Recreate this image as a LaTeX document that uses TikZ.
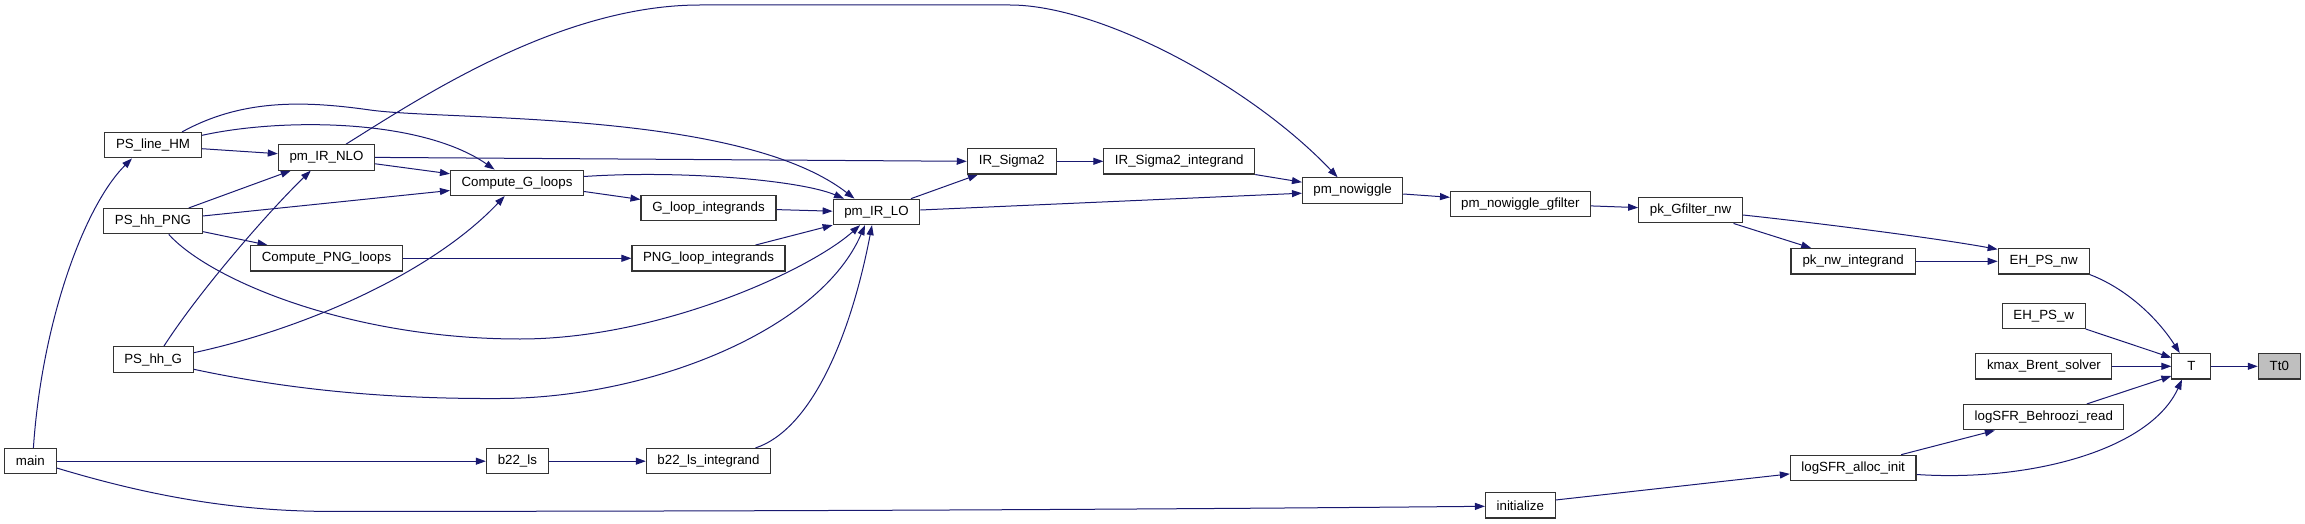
\documentclass[tikz,border=0pt]{standalone}
\usepackage{fontspec}
\setmainfont{Liberation Sans}
\usetikzlibrary{arrows.meta,calc}
\definecolor{edgeblue}{HTML}{191970}
\definecolor{nodeborder}{HTML}{333333}
\definecolor{hilite}{HTML}{BFBFBF}
\pgfdeclarelayer{edgelayer}
\pgfsetlayers{edgelayer,main}
\tikzset{
  fbox/.style={draw=nodeborder, line width=1.1pt, fill=white, rectangle, inner sep=0pt,
    minimum height=25.4pt, font=\fontsize{13.3}{16}\selectfont, text=black},
  callee/.style={fbox, fill=hilite},
  edge/.style={draw=edgeblue, line width=1pt, -{Triangle[length=10pt,width=7pt]}}
}
\begin{document}
\begin{tikzpicture}[x=1pt,y=-1pt]
\useasboundingbox (0,0) rectangle (2305,524);
% nodes
\node[callee, minimum width=42] (Tt0) at (2279.3,366.3) {Tt0};
\node[fbox, minimum width=39] (T) at (2191.4,366.3) {T};
\node[fbox, minimum width=91] (EHnw) at (2043.7,261.3) {EH\_PS\_nw};
\node[fbox, minimum width=83] (EHw) at (2043.7,315.8) {EH\_PS\_w};
\node[fbox, minimum width=136] (kmax) at (2043.9,366.3) {kmax\_Brent\_solver};
\node[fbox, minimum width=160] (behr) at (2043.8,417.2) {logSFR\_Behroozi\_read};
\node[fbox, minimum width=124.4] (pknw) at (1853.2,261.3) {pk\_nw\_integrand};
\node[fbox, minimum width=125.6] (alloc) at (1853.2,467.9) {logSFR\_alloc\_init};
\node[fbox, minimum width=103.7] (pkG) at (1690.5,210.2) {pk\_Gfilter\_nw};
\node[fbox, minimum width=139.6] (gfil) at (1520.3,203.9) {pm\_nowiggle\_gfilter};
\node[fbox, minimum width=69.6] (init) at (1520.3,505.3) {initialize};
\node[fbox, minimum width=100.2] (nowig) at (1352.6,190.5) {pm\_nowiggle};
\node[fbox, minimum width=150.8] (irsi) at (1179.3,161.3) {IR\_Sigma2\_integrand};
\node[fbox, minimum width=88.8] (irs) at (1011.7,161.3) {IR\_Sigma2};
\node[fbox, minimum width=86.6] (lo) at (876.5,211.9) {pm\_IR\_LO};
\node[fbox, minimum width=135] (gli) at (708.5,207.9) {G\_loop\_integrands};
\node[fbox, minimum width=153] (pngli) at (708.5,258.3) {PNG\_loop\_integrands};
\node[fbox, minimum width=124.3] (b22i) at (708.5,461.2) {b22\_ls\_integrand};
\node[fbox, minimum width=133] (cg) at (517,182.8) {Compute\_G\_loops};
\node[fbox, minimum width=62] (b22) at (517.4,461.2) {b22\_ls};
\node[fbox, minimum width=96.3] (nlo) at (326.5,157.4) {pm\_IR\_NLO};
\node[fbox, minimum width=152.4] (cpng) at (326.5,258.3) {Compute\_PNG\_loops};
\node[fbox, minimum width=96.3] (hm) at (153,145.2) {PS\_line\_HM};
\node[fbox, minimum width=98.3] (hpng) at (153,221.2) {PS\_hh\_PNG};
\node[fbox, minimum width=80.2] (hg) at (153.2,359.6) {PS\_hh\_G};
\node[fbox, minimum width=51.5] (main) at (30.4,461.2) {main};
% edges
\begin{pgfonlayer}{edgelayer}
\draw[edge] (T.east) -- (Tt0.west);
\draw[edge] (EHnw.south east) .. controls (2130,290) and (2160,322) .. ($(T.north west)+(8.4,0)$);
\draw[edge] (EHw.south east) -- ($(T.west)+(0,-8.6)$);
\draw[edge] (kmax.east) -- (T.west);
\draw[edge] ($(behr.north)+(43,0)$) -- ($(T.west)+(0,9.7)$);
\draw[edge] ($(alloc.east)+(0,6.6)$) .. controls (2030,482) and (2150,450) .. ($(T.south)+(-9.4,0)$);
\draw[edge] ($(alloc.north)+(48,0)$) -- ($(behr.south)+(-49,0)$);
\draw[edge] ($(init.east)+(0,-5.3)$) -- ($(alloc.west)+(0,6)$);
\draw[edge] ($(main.east)+(0,6.8)$) .. controls (130,490) and (220,511.4) .. (330,511.4)
  .. controls (800,511.4) and (1200,509) .. ($(init.west)+(0,1)$);
\draw[edge] ($(pkG.east)+(0,4.8)$) .. controls (1800,221) and (1930,237) .. ($(EHnw.north west)+(0,1.3)$);
\draw[edge] ($(pkG.south)+(43,0)$) -- ($(pknw.north)+(-42,0)$);
\draw[edge] (pknw.east) -- (EHnw.west);
\draw[edge] ($(gfil.east)+(0,2)$) -- ($(pkG.west)+(0,-2.6)$);
\draw[edge] ($(nowig.east)+(0,3.5)$) -- ($(gfil.west)+(0,-6.6)$);
\draw[edge] (irsi.south east) -- ($(nowig.west)+(0,-8.3)$);
\draw[edge] ($(lo.east)+(0,-1.9)$) -- ($(nowig.west)+(0,2.7)$);
\draw[edge] ($(nlo.north)+(19.5,0)$) .. controls (420,98) and (560,5) .. (700,5) -- (1010,5)
  .. controls (1100,5) and (1250,85) .. ($(nowig.north)+(-15,0)$);
\draw[edge] (irs.east) -- (irsi.west);
\draw[edge] ($(lo.north)+(34.5,0)$) -- ($(irs.south)+(-33.7,0)$);
\draw[edge] (nlo.east) -- (irs.west);
\draw[edge] ($(gli.east)+(0,1.7)$) -- ($(lo.west)+(0,-0.7)$);
\draw[edge] ($(pngli.north)+(47,0)$) -- (lo.south west);
\draw[edge] ($(cg.east)+(0,-6.3)$) .. controls (680,170) and (800,180) .. ($(lo.north)+(-32.5,0)$);
\draw[edge] ($(hm.north)+(29,0)$) .. controls (240,100) and (300,100) .. (370,110)
  .. controls (450,121) and (740,110) .. ($(lo.north)+(-22,0)$);
\draw[edge] ($(hpng.south)+(15.8,0)$) .. controls (210,280) and (350,339) .. (520,339)
  .. controls (660,339) and (810,270) .. ($(lo.south)+(-16.5,0)$);
\draw[edge] ($(hg.east)+(0,9.7)$) .. controls (300,392) and (400,399) .. (500,398.5)
  .. controls (650,398) and (820,330) .. ($(lo.south)+(-11.5,0)$);
\draw[edge] ($(b22i.north)+(47,0)$) .. controls (810,430) and (850,340) .. ($(lo.south)+(-4.5,0)$);
\draw[edge] ($(cg.east)+(0,8.7)$) -- ($(gli.west)+(0,-8.4)$);
\draw[edge] (cpng.east) -- (pngli.west);
\draw[edge] ($(nlo.east)+(0,6.4)$) -- ($(cg.west)+(0,-9)$);
\draw[edge] ($(hm.east)+(0,-9.8)$) .. controls (280,118) and (420,118) .. ($(cg.north)+(-22.4,0)$);
\draw[edge] ($(hpng.east)+(0,-5.2)$) -- ($(cg.west)+(0,7.7)$);
\draw[edge] ($(hg.east)+(0,-6.9)$) .. controls (300,330) and (430,275) .. ($(cg.south)+(-12.3,0)$);
\draw[edge] ($(hm.east)+(0,3.5)$) -- ($(nlo.west)+(0,-3.7)$);
\draw[edge] ($(hpng.north)+(35.8,0)$) -- ($(nlo.south)+(-35.7,0)$);
\draw[edge] ($(hg.north)+(10.6,0)$) .. controls (200,290) and (270,210) .. ($(nlo.south)+(-15.7,0)$);
\draw[edge] ($(hpng.east)+(0,10.4)$) -- ($(cpng.north)+(-59,0)$);
\draw[edge] ($(main.north)+(3,0)$) .. controls (42,320) and (85,205) .. ($(hm.south)+(-21,0)$);
\draw[edge] (main.east) -- (b22.west);
\draw[edge] (b22.east) -- (b22i.west);
\end{pgfonlayer}
\end{tikzpicture}
\end{document}
